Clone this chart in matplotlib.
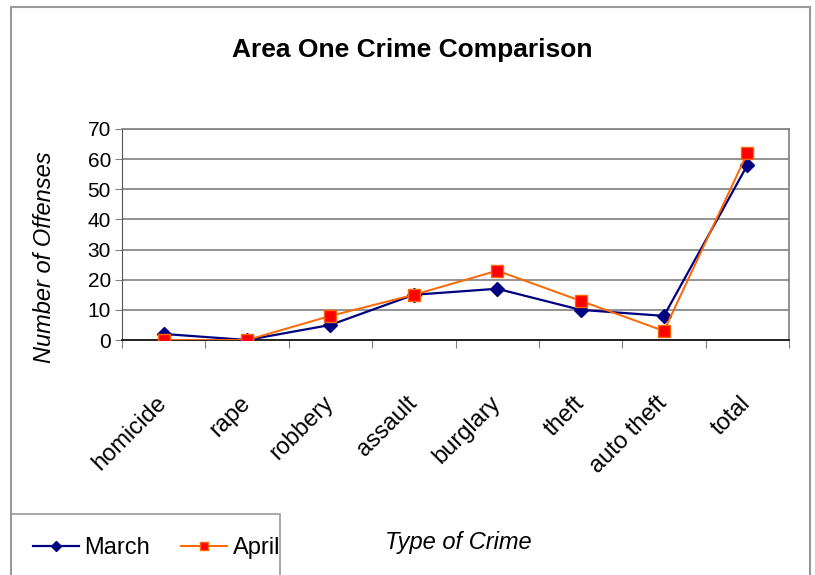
import numpy as np
import matplotlib
matplotlib.use('Agg')
import matplotlib.pyplot as plt
from matplotlib.patches import Rectangle

plt.rcParams['font.family'] = ['Liberation Sans', 'DejaVu Sans']

# data
crimes = ['homicide', 'rape', 'robbery', 'assault', 'burglary', 'theft', 'auto theft', 'total']
march = [2, 0, 5, 15, 17, 10, 8, 58]
april = [0, 0, 8, 15, 23, 13, 3, 62]
yticks = [0, 10, 20, 30, 40, 50, 60, 70]

W, H = 815, 575
fig = plt.figure(figsize=(W / 100, H / 100), dpi=100)

# axes placed in pixel terms
left, right, top, bottom = 122, 789, 129, 340
ax = fig.add_axes([left / W, 1 - bottom / H, (right - left) / W, (bottom - top) / H])

x = np.arange(len(crimes)) + 0.5
ax.plot(x, march, color='#000080', lw=1.6, marker='D', ms=7, mfc='#000080', mec='#000080', label='March', zorder=3)
ax.plot(x, april, color='#FF6600', lw=1.4, marker='s', ms=8, mfc='#FF0000', mec='#FF6600', label='April', zorder=4)

ax.set_xlim(0, len(crimes))
ax.set_ylim(0, 70)
ax.set_yticks(yticks)
ax.yaxis.grid(True, color='#808080', lw=1.2)
ax.set_axisbelow(True)

# category boundaries get the ticks, centres get the labels
ax.set_xticks(np.arange(len(crimes) + 1))
ax.set_xticklabels([])
ax.set_xticks(x, minor=True)
ax.set_xticklabels(crimes, minor=True, rotation=45, ha='right', va='center',
                   rotation_mode='anchor', fontsize=17)
ax.tick_params(axis='x', which='major', direction='out', length=6, color='#808080')
ax.tick_params(axis='x', which='minor', length=0, pad=43)
ax.tick_params(axis='y', direction='out', length=5, color='#808080', labelsize=15, pad=3)

for s in ['top', 'right']:
    ax.spines[s].set_color('#808080')
    ax.spines[s].set_linewidth(1.2)
ax.spines['left'].set_color('#555555')
ax.spines['bottom'].set_color('#222222')
ax.spines['bottom'].set_linewidth(1.4)

# titles
fig.text(412 / W, 1 - 50 / H, 'Area One Crime Comparison', ha='center', va='center',
         fontsize=19, fontweight='bold')
fig.text(45 / W, 1 - 257 / H, 'Number of Offenses', ha='center', va='center',
         rotation=90, fontsize=17, style='italic')
fig.text(458 / W, 1 - 543 / H, 'Type of Crime', ha='center', va='center',
         fontsize=17, style='italic')

# outer chart frame and legend box
fig.add_artist(Rectangle((11 / W, -0.05), (810 - 11) / W, 1 - 7 / H + 0.05,
                         transform=fig.transFigure, fill=False, ec='#999999', lw=1.5))
fig.add_artist(Rectangle((11 / W, -0.05), (280 - 11) / W, 1 - 514 / H + 0.05,
                         transform=fig.transFigure, fill=False, ec='#999999', lw=1.2))
fig.legend(loc='center left', bbox_to_anchor=(16 / W, 1 - 548 / H), ncol=2, frameon=False,
           fontsize=17, handlelength=1.95, handletextpad=0.25, columnspacing=1.3,
           markerscale=0.8, borderpad=0.2)

fig.savefig('out.png', dpi=100)
